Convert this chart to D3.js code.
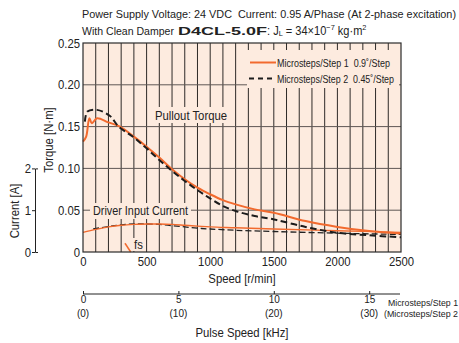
<!DOCTYPE html>
<html>
<head>
<meta charset="utf-8">
<script src="https://cdn.jsdelivr.net/npm/d3@7"></script>
<style>
  body { margin: 0; background: #fff; }
  svg { display: block; }
  text { font-family: "Liberation Sans", Arial, sans-serif; fill: #222; }
</style>
</head>
<body>
<script>
// ---- data ----
const speedTicks = [0, 500, 1000, 1500, 2000, 2500];
const torqueTicks = [0, 0.05, 0.10, 0.15, 0.20, 0.25];
const currentTicks = [0, 1, 2];
const pulseTicks = [0, 5, 10, 15];
const pulseTicksStep2 = ["(0)", "(10)", "(20)", "(30)"];
const gridSpeeds = d3.range(100, 2500, 100);

// pullout torque, microsteps/step 1 (0.9°/step)
const pullout1Speed = [0, 25, 50, 70, 110, 200, 290, 400, 500, 600, 700, 800, 900, 1000, 1100, 1200, 1350, 1500, 1750, 2000, 2250, 2500];
const pullout1Torque = [0.132, 0.138, 0.160, 0.154, 0.160, 0.155, 0.150, 0.138, 0.126, 0.113, 0.099, 0.087, 0.077, 0.069, 0.062, 0.057, 0.051, 0.047, 0.037, 0.030, 0.025, 0.022];

// pullout torque, microsteps/step 2 (0.45°/step)
const pullout2Speed = [15, 35, 110, 210, 280, 400, 500, 600, 700, 800, 900, 1000, 1100, 1200, 1350, 1500, 1750, 2000, 2250, 2500];
const pullout2Torque = [0.156, 0.168, 0.170, 0.163, 0.150, 0.137, 0.124, 0.110, 0.097, 0.085, 0.074, 0.064, 0.055, 0.049, 0.043, 0.039, 0.030, 0.023, 0.020, 0.0176];

// driver input current [A]
const current1Speed = [0, 100, 200, 300, 400, 500, 600, 700, 800, 900, 1000, 1200, 1500, 2000, 2500];
const current1Amps = [0.47, 0.54, 0.60, 0.64, 0.66, 0.67, 0.67, 0.66, 0.64, 0.62, 0.60, 0.58, 0.55, 0.51, 0.47];
const current2Speed = [80, 200, 300, 400, 500, 600, 700, 800, 900, 1000, 1200, 1500, 2000, 2500];
const current2Amps = [0.55, 0.61, 0.65, 0.67, 0.67, 0.66, 0.63, 0.60, 0.57, 0.55, 0.52, 0.49, 0.45, 0.42];

// starting frequency fs (short segment)
const fsSpeed = [330, 375];
const fsTorque = [0.0105, 0];

const legendLabels = ["Microsteps/Step 1  0.9˚/Step", "Microsteps/Step 2  0.45˚/Step"];

// ---- layout ----
const width = 459, height = 343;
const ORANGE = "#f26a2e";
const BG = "#fdebdf";
const NARROW = 0.87;

const svg = d3.select("body").append("svg")
  .attr("width", width)
  .attr("height", height);

// squeeze text horizontally (the original uses a condensed face)
const squeeze = (sel, k) => sel.each(function() {
  const len = this.getComputedTextLength();
  d3.select(this).attr("textLength", len * k).attr("lengthAdjust", "spacingAndGlyphs");
});
const fitTo = (sel, w) => sel.attr("textLength", w).attr("lengthAdjust", "spacingAndGlyphs");

const x = d3.scaleLinear().domain([0, 2500]).range([83, 401]);
const y = d3.scaleLinear().domain([0, 0.25]).range([252, 43]);
const yCur = d3.scaleLinear().domain([0, 2]).range([y(0), y(0.10)]);
const xPulse = d3.scaleLinear().domain([0, 2500 / 60 * 400 / 1000]).range(x.range());

// plot background
svg.append("rect")
  .attr("x", x(0)).attr("y", y(0.25))
  .attr("width", x(2500) - x(0)).attr("height", y(0) - y(0.25))
  .attr("fill", BG);

// grid
svg.append("g").selectAll("line")
  .data(gridSpeeds)
  .join("line")
  .attr("x1", d => x(d)).attr("x2", d => x(d))
  .attr("y1", y(0.25)).attr("y2", y(0))
  .attr("stroke", "#2e2a28").attr("stroke-width", 1);

svg.append("g").selectAll("line")
  .data(torqueTicks.slice(1, -1))
  .join("line")
  .attr("x1", x(0)).attr("x2", x(2500))
  .attr("y1", d => y(d)).attr("y2", d => y(d))
  .attr("stroke", "#5e5754").attr("stroke-width", 1);

// boxes that hide the grid behind labels
const boxes = [
  { x0: 247, y0: 50, w: 152, h: 38 },
  { x0: 152, y0: 107, w: 78, h: 16 },
  { x0: 90, y0: 203, w: 101, h: 16 },
  { x0: 133, y0: 238, w: 12, h: 13 }
];
svg.append("g").selectAll("rect")
  .data(boxes)
  .join("rect")
  .attr("x", d => d.x0).attr("y", d => d.y0)
  .attr("width", d => d.w).attr("height", d => d.h)
  .attr("fill", BG);

// curves
const curve = (xs, ys, yScale) => d3.line()
  .x(i => x(xs[i]))
  .y(i => yScale(ys[i]))
  .curve(d3.curveCatmullRom.alpha(0.5))(d3.range(xs.length));

svg.append("path")
  .attr("d", curve(current2Speed, current2Amps, yCur))
  .attr("fill", "none").attr("stroke", "#222").attr("stroke-width", 1.3)
  .attr("stroke-dasharray", "6,3");
svg.append("path")
  .attr("d", curve(current1Speed, current1Amps, yCur))
  .attr("fill", "none").attr("stroke", ORANGE).attr("stroke-width", 1.4);
svg.append("path")
  .attr("d", curve(pullout1Speed, pullout1Torque, y))
  .attr("fill", "none").attr("stroke", ORANGE).attr("stroke-width", 2);
svg.append("path")
  .attr("d", curve(pullout2Speed, pullout2Torque, y))
  .attr("fill", "none").attr("stroke", "#1c1c1c").attr("stroke-width", 2)
  .attr("stroke-dasharray", "6.5,3.5");
svg.append("path")
  .attr("d", curve(fsSpeed, fsTorque, y))
  .attr("fill", "none").attr("stroke", ORANGE).attr("stroke-width", 1.5);

// frame
svg.append("rect")
  .attr("x", x(0)).attr("y", y(0.25))
  .attr("width", x(2500) - x(0)).attr("height", y(0) - y(0.25))
  .attr("fill", "none").attr("stroke", "#2b2b2b").attr("stroke-width", 1.2);

// torque axis labels
const yAxis = svg.append("g")
  .attr("transform", `translate(${x(0)},0)`)
  .call(d3.axisLeft(y).tickValues(torqueTicks).tickSize(0).tickPadding(3)
    .tickFormat(d => d === 0 ? "0" : d3.format(".2f")(d)));
yAxis.select(".domain").remove();
yAxis.selectAll("text").attr("font-size", 13).attr("font-family", null).call(squeeze, NARROW);

// speed axis labels
const xAxis = svg.append("g")
  .attr("transform", `translate(0,${y(0)})`)
  .call(d3.axisBottom(x).tickValues(speedTicks).tickSize(0).tickPadding(5).tickFormat(d3.format("d")));
xAxis.select(".domain").remove();
xAxis.selectAll("text").attr("font-size", 13).attr("font-family", null).call(squeeze, NARROW);

// current axis
const cAxis = svg.append("g")
  .attr("transform", "translate(35,0)")
  .call(d3.axisLeft(yCur).tickValues(currentTicks).tickFormat(d3.format("d"))
    .tickSizeInner(3).tickSizeOuter(-3).tickPadding(1));
cAxis.selectAll("path, line").attr("stroke", "#222");
cAxis.selectAll("text").attr("font-size", 13).attr("font-family", null).call(squeeze, NARROW);

// pulse speed axis
const pAxis = svg.append("g")
  .attr("transform", "translate(0,294)")
  .call(d3.axisBottom(xPulse).tickValues(pulseTicks).tickSizeInner(-3).tickSizeOuter(0).tickPadding(1));
pAxis.select(".domain").attr("d", `M${x(0)},0H400`);
pAxis.selectAll("path, line").attr("stroke", "#222");
pAxis.selectAll("text").attr("font-size", 11.5).attr("font-family", null).call(squeeze, NARROW);

svg.append("g").selectAll("text")
  .data(pulseTicksStep2)
  .join("text")
  .attr("x", (d, i) => xPulse(pulseTicks[i]))
  .attr("y", 317)
  .attr("text-anchor", "middle")
  .attr("font-size", 11.5)
  .text(d => d)
  .call(squeeze, NARROW);

svg.append("text").attr("x", 388).attr("y", 306).attr("font-size", 9)
  .text("Microsteps/Step 1").call(fitTo, 70);
svg.append("text").attr("x", 384).attr("y", 317).attr("font-size", 9)
  .text("(Microsteps/Step 2").call(fitTo, 74);

// axis titles
svg.append("text").attr("x", 242).attr("y", 283).attr("text-anchor", "middle")
  .attr("font-size", 13).text("Speed [r/min]").call(squeeze, NARROW);
svg.append("text").attr("x", 242).attr("y", 337).attr("text-anchor", "middle")
  .attr("font-size", 13).text("Pulse Speed [kHz]").call(squeeze, NARROW);
svg.append("text").attr("transform", "translate(19,211) rotate(-90)").attr("text-anchor", "middle")
  .attr("font-size", 13).text("Current [A]").call(squeeze, NARROW);
svg.append("text").attr("transform", "translate(53,140) rotate(-90)").attr("text-anchor", "middle")
  .attr("font-size", 13).text("Torque [N·m]").call(squeeze, NARROW);

// in-plot labels
svg.append("text").attr("x", 155).attr("y", 120).attr("font-size", 13)
  .text("Pullout Torque").call(fitTo, 72);
svg.append("text").attr("x", 93).attr("y", 215).attr("font-size", 13)
  .text("Driver Input Current").call(fitTo, 95);
svg.append("text").attr("x", 134).attr("y", 249).attr("font-size", 13)
  .text("fs").call(squeeze, NARROW);

// legend
const legend = svg.append("g");
legend.append("line").attr("x1", 250).attr("x2", 276).attr("y1", 62.5).attr("y2", 62.5)
  .attr("stroke", ORANGE).attr("stroke-width", 2);
legend.append("line").attr("x1", 249).attr("x2", 276).attr("y1", 78.5).attr("y2", 78.5)
  .attr("stroke", "#1c1c1c").attr("stroke-width", 2).attr("stroke-dasharray", "5,4");
legend.selectAll("text.lg")
  .data(legendLabels)
  .join("text")
  .attr("class", "lg")
  .attr("x", 277).attr("y", (d, i) => 66.5 + i * 16)
  .attr("font-size", 11.5).style("white-space", "pre")
  .text(d => d)
  .attr("textLength", (d, i) => [113, 117][i])
  .attr("lengthAdjust", "spacingAndGlyphs");

// title
svg.append("text").attr("x", 82).attr("y", 18).attr("font-size", 10.5)
  .style("white-space", "pre")
  .text("Power Supply Voltage: 24 VDC  Current: 0.95 A/Phase (At 2-phase excitation)")
  .call(fitTo, 374);
svg.append("text").attr("x", 82).attr("y", 35).attr("font-size", 11)
  .text("With Clean Damper").call(fitTo, 92);
svg.append("text").attr("x", 178).attr("y", 35).attr("font-size", 11.5)
  .attr("font-family", "DejaVu Sans").attr("font-weight", "bold")
  .text("D4CL-5.0F").call(fitTo, 89);
const t2 = svg.append("text").attr("x", 267).attr("y", 35).attr("font-size", 12);
t2.append("tspan").text(": J");
t2.append("tspan").attr("font-size", 8).attr("dy", 1).text("L");
t2.append("tspan").attr("dy", -1).text(" = 34×10");
t2.append("tspan").attr("font-size", 8).attr("dy", -5).text("−7");
t2.append("tspan").attr("dy", 5).text(" kg·m");
t2.append("tspan").attr("font-size", 8).attr("dy", -5).text("2");
t2.call(squeeze, 0.92);
</script>
</body>
</html>
